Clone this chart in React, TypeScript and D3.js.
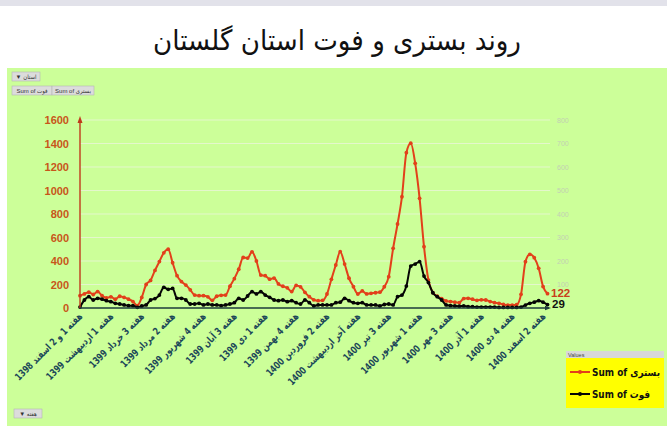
import React from "react";
import * as d3 from "d3";

const title = "روند بستری و فوت استان گلستان";

const tickLabels = [
  "هفته 1 و 2 اسفند 1398",
  "هفته 1 اردیبهشت 1399",
  "هفته 3 خرداد 1399",
  "هفته 2 مرداد 1399",
  "هفته 4 شهریور 1399",
  "هفته 3 آبان 1399",
  "هفته 1 دی 1399",
  "هفته 4 بهمن 1399",
  "هفته 2 فروردین 1400",
  "هفته آخر اردیبهشت 1400",
  "هفته 3 تیر 1400",
  "هفته 1 شهریور 1400",
  "هفته 3 مهر 1400",
  "هفته 1 آذر 1400",
  "هفته 4 دی 1400",
  "هفته 2 اسفند 1400",
];
const labelEvery = 7;

// Sum of بستری (hospitalized), weekly
const hospital = [
  105, 120, 135, 115, 140, 105, 85, 95, 75, 100,
  90, 75, 55, 20, 90, 200, 235, 320, 395, 470,
  500, 385, 275, 225, 195, 155, 110, 105, 105, 95,
  65, 100, 108, 110, 185, 250, 330, 430, 425, 478,
  400, 280, 275, 245, 255, 205, 185, 172, 140, 192,
  180, 133, 96, 70, 62, 65, 119, 244, 366, 479,
  374, 253, 181, 119, 145, 120, 125, 130, 135, 181,
  267, 508, 715, 947, 1322, 1402, 1231, 933, 522, 238,
  131, 100, 80, 60, 55, 50, 45, 80, 82, 75,
  65, 70, 68, 55, 45, 40, 30, 25, 25, 28,
  116, 394, 457, 428, 338, 182, 122,
];

// Sum of فوت (deaths), weekly
const deaths = [
  8, 68, 96, 68, 82, 75, 62, 54, 40, 34,
  26, 20, 20, 6, 17, 26, 68, 80, 110, 176,
  159, 167, 82, 82, 68, 34, 34, 40, 26, 34,
  26, 26, 20, 26, 34, 45, 82, 68, 102, 139,
  120, 139, 110, 91, 68, 62, 68, 54, 62, 45,
  34, 68, 45, 17, 26, 26, 26, 26, 45, 50,
  82, 62, 45, 40, 45, 26, 26, 26, 17, 30,
  34, 26, 96, 110, 187, 357, 374, 394, 272, 216,
  130, 96, 68, 26, 20, 18, 15, 18, 11, 11,
  8, 8, 8, 8, 8, 5, 5, 5, 5, 5,
  8, 25, 40, 50, 62, 50, 29,
];

const leftTicks = [0, 200, 400, 600, 800, 1000, 1200, 1400, 1600];
const rightTicks = [100, 200, 300, 400, 500, 600, 700, 800];

const seriesNames = ["Sum of بستری", "Sum of فوت"];
const RED = "#e2401a";
const BLACK = "#050505";

export default function App() {
  const W = 667;
  const H = 430;
  const x = d3.scaleLinear().domain([0, hospital.length - 1]).range([80, 547.5]);
  const y = d3.scaleLinear().domain([0, 1600]).range([308, 120]);
  const yR = d3.scaleLinear().domain([0, 800]).range([308, 120]);
  const line = d3
    .line<number>()
    .x((_, i) => x(i))
    .y((d) => y(d))
    .curve(d3.curveMonotoneX);

  const font = "'Liberation Sans', Arial, 'DejaVu Sans Condensed', 'DejaVu Sans', sans-serif";

  const btn = (bx: number, by: number, w: number, label: string, key: string) => (
    <g key={key}>
      <rect x={bx} y={by} width={w} height={9} fill="#dcdcdc" stroke="#b5b5b5" strokeWidth={0.6} />
      <text x={bx + w / 2} y={by + 6.7} fontSize={6} fill="#333" textAnchor="middle" fontFamily={font}>
        {label}
      </text>
    </g>
  );

  return (
    <svg
      width={W}
      height={H}
      style={{ position: "absolute", left: 0, top: 0, display: "block" }}
      viewBox={`0 0 ${W} ${H}`}
    >
      <rect x={0} y={0} width={W} height={H} fill="#ffffff" />
      <rect x={0} y={0} width={W} height={6} fill="#e2e2ea" />
      <text
        x={337}
        y={50}
        fontSize={28}
        textAnchor="middle"
        fontFamily="'DejaVu Sans', sans-serif"
        fill="#111"
        textLength={368}
        lengthAdjust="spacingAndGlyphs"
      >
        {title}
      </text>

      <rect x={7} y={68} width={660} height={358} fill="#ccff99" />

      {/* pivot buttons */}
      {btn(12, 72, 28, "▼ استان", "b1")}
      {btn(12, 86, 40, "Sum of فوت", "b2")}
      {btn(52, 86, 42, "Sum of بستری", "b3")}
      {btn(14, 409, 28, "▼ هفته", "b4")}

      {/* gridlines */}
      {rightTicks.map((t) => (
        <line key={"g" + t} x1={80} x2={550} y1={yR(t)} y2={yR(t)} stroke="#e4f7cc" strokeWidth={1} />
      ))}

      {/* right axis labels */}
      {rightTicks.map((t) => (
        <text
          key={"r" + t}
          x={557}
          y={yR(t) + 2.5}
          fontSize={7}
          fill="#c3cfb5"
          fontFamily={font}
        >
          {t}
        </text>
      ))}

      {/* left axis labels */}
      {leftTicks.map((t) => (
        <text
          key={"l" + t}
          x={69}
          y={y(t) + 4}
          fontSize={11}
          fontWeight="bold"
          fill="#c8561a"
          textAnchor="end"
          fontFamily={font}
        >
          {t}
        </text>
      ))}

      {/* series */}
      <path d={line(hospital) || ""} fill="none" stroke={RED} strokeWidth={2} />
      {hospital.map((v, i) => (
        <circle key={"hp" + i} cx={x(i)} cy={y(v)} r={1.9} fill={RED} />
      ))}
      <path d={line(deaths) || ""} fill="none" stroke={BLACK} strokeWidth={2} />
      {deaths.map((v, i) => (
        <circle key={"dp" + i} cx={x(i)} cy={y(v)} r={1.9} fill={BLACK} />
      ))}

      {/* axes */}
      <line x1={80} x2={80} y1={308} y2={119} stroke="#c0391b" strokeWidth={1.4} />
      <path d="M77.5,123 L80,116 L82.5,123 Z" fill="#c0391b" />
      <line x1={80} x2={549} y1={308} y2={308} stroke="#1d3b3b" strokeWidth={1.4} />
      <path d="M545,305.8 L551,308 L545,310.2 Z" fill="#1d3b3b" />

      {/* end value labels */}
      <text x={551} y={297} fontSize={11.5} fontWeight="bold" fill="#c8401a" fontFamily={font}>
        {hospital[hospital.length - 1]}
      </text>
      <text x={552} y={308} fontSize={11.5} fontWeight="bold" fill="#111" fontFamily={font}>
        {deaths[deaths.length - 1]}
      </text>

      {/* x labels */}
      {tickLabels.map((lab, k) => {
        const px = x(k * labelEvery) + 3;
        const py = 317;
        return (
          <text
            key={"x" + k}
            x={0}
            y={0}
            transform={`translate(${px},${py}) rotate(-45) scale(0.84,1)`}
            fontSize={10}
            fontWeight="bold"
            fill="#1b4758"
            textAnchor="end"
            fontFamily="'DejaVu Sans Condensed', 'DejaVu Sans', sans-serif"
          >
            {lab}
          </text>
        );
      })}

      {/* legend */}
      <rect x={566} y={351} width={98} height={7} fill="#d8d8d8" />
      <text x={568} y={357} fontSize={5.5} fill="#444" fontFamily={font}>
        Values
      </text>
      <rect x={566} y={358} width={98} height={50} fill="#ffff00" />
      {[RED, BLACK].map((c, i) => {
        const ly = 372 + i * 22;
        return (
          <g key={"lg" + i}>
            <line x1={570} x2={590} y1={ly} y2={ly} stroke={c} strokeWidth={2} />
            <circle cx={580} cy={ly} r={2} fill={c} />
            <text
              x={592}
              y={ly + 4}
              fontSize={10.5}
              fontWeight="bold"
              fill="#111"
              fontFamily="'DejaVu Sans Condensed', 'DejaVu Sans', sans-serif"
              textLength={i === 0 ? 68 : 58}
              lengthAdjust="spacingAndGlyphs"
            >
              {seriesNames[i]}
            </text>
          </g>
        );
      })}
    </svg>
  );
}
